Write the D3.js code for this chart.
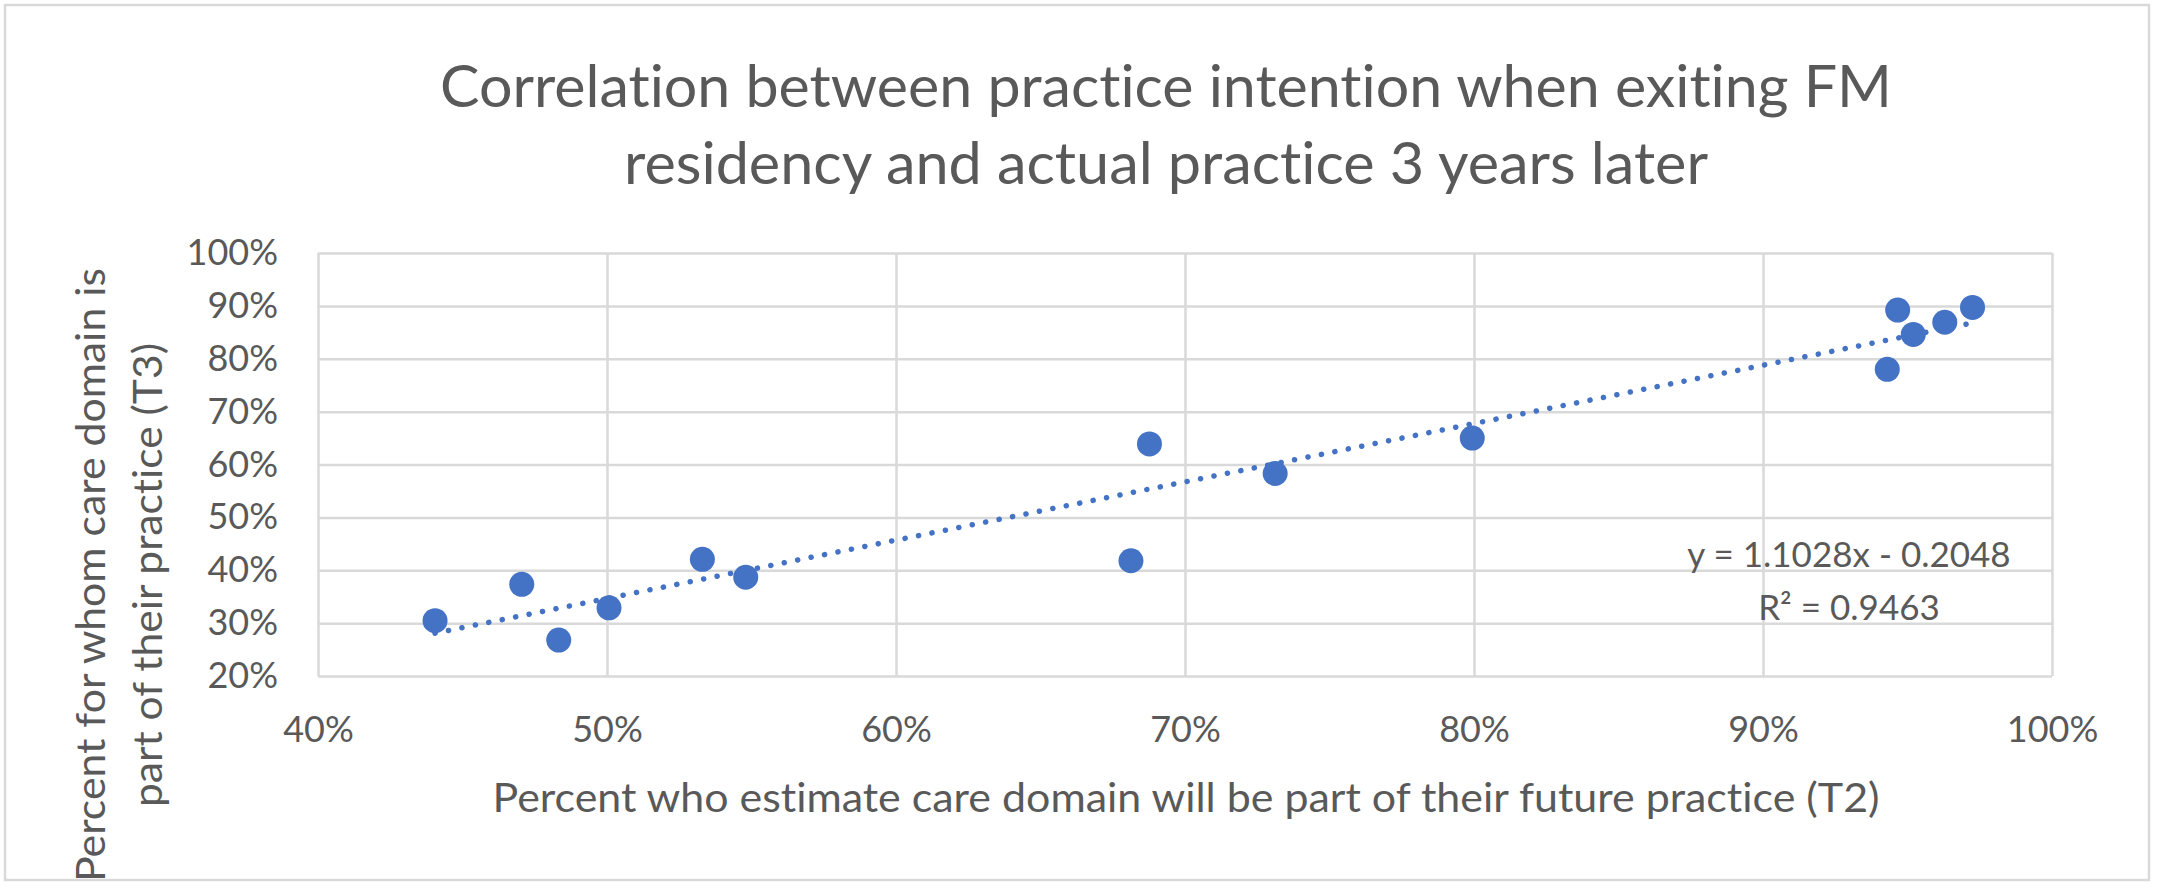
<!DOCTYPE html>
<html>
<head>
<meta charset="utf-8">
<script src="https://cdn.jsdelivr.net/npm/d3@7"></script>
<style>
  body { margin: 0; background: #fff; }
  text { font-family: Lato, "Open Sans", sans-serif; fill: #595959; font-variant-ligatures: none; }
</style>
</head>
<body>
<div id="chart"></div>
<script>
// percent who estimate domain will be in future practice (T2)
var t2 = [0.4405, 0.4705, 0.4833, 0.5007, 0.533, 0.548, 0.6813, 0.6877, 0.7312, 0.7994, 0.943, 0.9466, 0.952, 0.9629, 0.9725];
// percent for whom domain is part of practice (T3)
var t3 = [0.3046, 0.3734, 0.268, 0.329, 0.4207, 0.3867, 0.418, 0.639, 0.583, 0.65, 0.780, 0.892, 0.846, 0.869, 0.897];

var xTicks = [0.4, 0.5, 0.6, 0.7, 0.8, 0.9, 1.0];
var yTicks = [0.2, 0.3, 0.4, 0.5, 0.6, 0.7, 0.8, 0.9, 1.0];

// linear trendline as printed on the chart
var trendSlope = 1.1028;
var trendIntercept = -0.2048;
var trendLabels = ["y = 1.1028x - 0.2048", "R\u00B2 = 0.9463"];

var titleLines = ["Correlation between practice intention when exiting FM", "residency and actual practice 3 years later"];
var xTitle = "Percent who estimate care domain will be part of their future practice (T2)";
var yTitleLines = ["Percent for whom care domain is", "part of their practice (T3)"];

var W = 2158, H = 889;
var margin = {top: 253, right: 106, bottom: 213, left: 318};
var width = W - margin.left - margin.right;
var height = H - margin.top - margin.bottom;

var svg = d3.select("#chart").append("svg")
    .attr("width", W)
    .attr("height", H);

// outer chart border
svg.append("rect")
    .attr("x", 5).attr("y", 5)
    .attr("width", 2144).attr("height", 875)
    .attr("fill", "#fff")
    .attr("stroke", "#d9d9d9")
    .attr("stroke-width", 2.5);

var g = svg.append("g")
    .attr("transform", "translate(" + margin.left + "," + margin.top + ")");

var x = d3.scaleLinear().domain([0.4, 1.0]).range([0, width]);
var y = d3.scaleLinear().domain([0.2, 1.0]).range([height, 0]);
var pct = d3.format(".0%");

// gridlines
g.append("g")
    .attr("class", "grid")
    .attr("transform", "translate(0," + height + ")")
    .call(d3.axisBottom(x).tickValues(xTicks).tickSize(-height).tickFormat(""));
g.append("g")
    .attr("class", "grid")
    .call(d3.axisLeft(y).tickValues(yTicks).tickSize(-width).tickFormat(""));
g.selectAll(".grid .domain").remove();
g.selectAll(".grid line")
    .attr("stroke", "#d9d9d9")
    .attr("stroke-width", 2.5);

// tick labels
var xAxis = g.append("g")
    .attr("transform", "translate(0," + height + ")")
    .call(d3.axisBottom(x).tickValues(xTicks).tickFormat(pct).tickSize(0).tickPadding(40));
var yAxis = g.append("g")
    .call(d3.axisLeft(y).tickValues(yTicks).tickFormat(pct).tickSize(0).tickPadding(40));
[xAxis, yAxis].forEach(function(a) {
    a.select(".domain").remove();
    a.selectAll("text")
        .attr("fill", "#595959")
        .style("font-family", "Lato, sans-serif")
        .style("font-size", "36px");
});

// points
g.append("g").selectAll("circle")
    .data(t2.map(function(d, i) { return [d, t3[i]]; }))
    .join("circle")
        .attr("cx", function(d) { return x(d[0]); })
        .attr("cy", function(d) { return y(d[1]); })
        .attr("r", 12.5)
        .attr("fill", "#4472c4");

// dotted trendline across the data range
var xMin = d3.min(t2), xMax = d3.max(t2);
g.append("line")
    .attr("x1", x(xMin)).attr("y1", y(trendSlope * xMin + trendIntercept))
    .attr("x2", x(xMax)).attr("y2", y(trendSlope * xMax + trendIntercept))
    .attr("stroke", "#4472c4")
    .attr("stroke-width", 5.5)
    .attr("stroke-linecap", "round")
    .attr("stroke-dasharray", "0.1 13.6");

// trendline equation
svg.selectAll(".eq")
    .data(trendLabels)
    .join("text")
        .attr("class", "eq")
        .attr("x", 1849)
        .attr("y", function(d, i) { return 567 + i * 52.5; })
        .attr("text-anchor", "middle")
        .style("font-size", "35px")
        .text(function(d) { return d; });

// title
var titleLengths = [1452, 1084];
svg.selectAll(".title")
    .data(titleLines)
    .join("text")
        .attr("class", "title")
        .attr("x", 1166)
        .attr("y", function(d, i) { return 107 + i * 77; })
        .attr("text-anchor", "middle")
        .attr("textLength", function(d, i) { return titleLengths[i]; })
        .attr("lengthAdjust", "spacingAndGlyphs")
        .style("font-size", "58px")
        .text(function(d) { return d; });

// x axis title
svg.append("text")
    .attr("x", 1186)
    .attr("y", 812)
    .attr("text-anchor", "middle")
    .attr("textLength", 1387)
    .attr("lengthAdjust", "spacingAndGlyphs")
    .style("font-size", "40px")
    .text(xTitle);

// y axis title (two lines, rotated)
var yTitleLengths = [614, 464];
svg.selectAll(".ytitle")
    .data(yTitleLines)
    .join("text")
        .attr("class", "ytitle")
        .attr("transform", function(d, i) { return "translate(" + (105 + i * 57) + ",575) rotate(-90)"; })
        .attr("text-anchor", "middle")
        .attr("textLength", function(d, i) { return yTitleLengths[i]; })
        .attr("lengthAdjust", "spacingAndGlyphs")
        .style("font-size", "40px")
        .text(function(d) { return d; });
</script>
</body>
</html>
